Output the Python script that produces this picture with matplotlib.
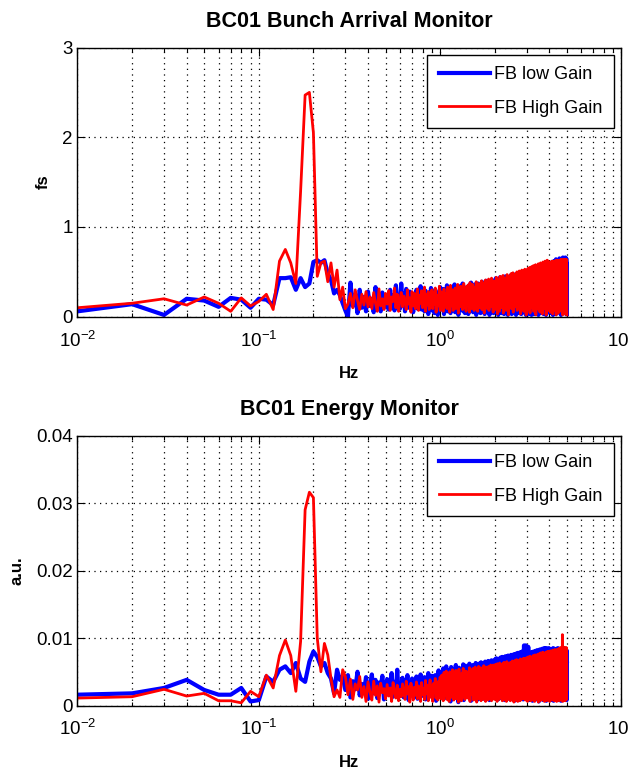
import numpy as np
import matplotlib.pyplot as plt

plt.rcParams['font.family'] = ['Liberation Sans', 'DejaVu Sans']
plt.rcParams['mathtext.default'] = 'regular'

# spectrum bins: 0.01 Hz ... 5.00 Hz
freq = np.arange(1, 501) / 100.0

# BC01 bunch arrival monitor (fs), one row = 0.1 Hz
arrival_low = [
    0.06, 0.14, 0.02, 0.20, 0.18, 0.11, 0.21, 0.19, 0.10, 0.20,
    0.19, 0.13, 0.43, 0.43, 0.44, 0.30, 0.43, 0.33, 0.37, 0.61,
    0.63, 0.60, 0.63, 0.48, 0.41, 0.26, 0.30, 0.24, 0.15, 0.07,
    0.00, 0.38, 0.12, 0.25, 0.04, 0.30, 0.10, 0.22, 0.06, 0.28,
    0.12, 0.20, 0.05, 0.33, 0.14, 0.18, 0.06, 0.27, 0.10, 0.22,
    0.15, 0.08, 0.30, 0.12, 0.24, 0.07, 0.35, 0.16, 0.20, 0.09,
    0.37, 0.14, 0.26, 0.06, 0.31, 0.18, 0.10, 0.28, 0.13, 0.22,
    0.05, 0.24, 0.15, 0.30, 0.09, 0.20, 0.12, 0.34, 0.08, 0.18,
    0.25, 0.06, 0.29, 0.14, 0.21, 0.03, 0.27, 0.11, 0.32, 0.07,
    0.19, 0.24, 0.04, 0.30, 0.13, 0.22, 0.02, 0.26, 0.15, 0.33,
    0.08, 0.24, 0.12, 0.31, 0.03, 0.20, 0.27, 0.10, 0.35, 0.06,
    0.22, 0.14, 0.29, 0.04, 0.33, 0.17, 0.09, 0.26, 0.12, 0.36,
    0.05, 0.21, 0.30, 0.11, 0.25, 0.02, 0.34, 0.15, 0.23, 0.08,
    0.28, 0.13, 0.37, 0.06, 0.22, 0.31, 0.04, 0.27, 0.18, 0.33,
    0.10, 0.25, 0.03, 0.35, 0.16, 0.29, 0.07, 0.38, 0.12, 0.24,
    0.30, 0.05, 0.27, 0.19, 0.36, 0.09, 0.23, 0.02, 0.32, 0.14,
    0.21, 0.37, 0.08, 0.28, 0.13, 0.34, 0.04, 0.26, 0.17, 0.39,
    0.06, 0.30, 0.22, 0.11, 0.36, 0.03, 0.29, 0.15, 0.40, 0.09,
    0.25, 0.33, 0.05, 0.38, 0.18, 0.27, 0.02, 0.35, 0.12, 0.31,
    0.20, 0.07, 0.41, 0.14, 0.29, 0.36, 0.04, 0.26, 0.39, 0.10,
    0.32, 0.16, 0.43, 0.05, 0.28, 0.37, 0.11, 0.24, 0.02, 0.40,
    0.19, 0.35, 0.08, 0.44, 0.13, 0.30, 0.22, 0.04, 0.38, 0.27,
    0.10, 0.42, 0.17, 0.33, 0.03, 0.39, 0.25, 0.14, 0.45, 0.06,
    0.29, 0.21, 0.40, 0.09, 0.36, 0.02, 0.31, 0.44, 0.15, 0.26,
    0.41, 0.07, 0.34, 0.23, 0.46, 0.12, 0.28, 0.03, 0.39, 0.18,
    0.08, 0.43, 0.24, 0.35, 0.05, 0.47, 0.16, 0.30, 0.11, 0.42,
    0.27, 0.02, 0.38, 0.20, 0.45, 0.13, 0.33, 0.06, 0.48, 0.22,
    0.36, 0.15, 0.42, 0.04, 0.29, 0.47, 0.10, 0.39, 0.25, 0.03,
    0.44, 0.18, 0.32, 0.49, 0.07, 0.37, 0.21, 0.46, 0.12, 0.34,
    0.05, 0.41, 0.27, 0.50, 0.14, 0.38, 0.02, 0.45, 0.23, 0.35,
    0.48, 0.11, 0.40, 0.26, 0.52, 0.06, 0.37, 0.19, 0.44, 0.03,
    0.33, 0.50, 0.15, 0.42, 0.08, 0.47, 0.28, 0.36, 0.02, 0.51,
    0.21, 0.39, 0.12, 0.53, 0.31, 0.05, 0.45, 0.24, 0.49, 0.16,
    0.41, 0.03, 0.36, 0.52, 0.18, 0.44, 0.09, 0.48, 0.29, 0.38,
    0.07, 0.54, 0.25, 0.43, 0.13, 0.50, 0.34, 0.02, 0.46, 0.20,
    0.52, 0.30, 0.11, 0.47, 0.39, 0.04, 0.55, 0.22, 0.42, 0.15,
    0.37, 0.49, 0.06, 0.53, 0.27, 0.44, 0.10, 0.56, 0.32, 0.19,
    0.45, 0.03, 0.51, 0.35, 0.14, 0.57, 0.24, 0.48, 0.08, 0.41,
    0.55, 0.28, 0.46, 0.02, 0.50, 0.38, 0.17, 0.58, 0.26, 0.43,
    0.12, 0.53, 0.33, 0.47, 0.05, 0.59, 0.40, 0.21, 0.54, 0.30,
    0.44, 0.09, 0.57, 0.36, 0.51, 0.14, 0.60, 0.27, 0.48, 0.04,
    0.39, 0.58, 0.22, 0.53, 0.11, 0.61, 0.34, 0.46, 0.02, 0.56,
    0.31, 0.49, 0.16, 0.62, 0.42, 0.07, 0.57, 0.25, 0.52, 0.38,
    0.13, 0.60, 0.45, 0.29, 0.64, 0.03, 0.50, 0.37, 0.58, 0.20,
    0.47, 0.62, 0.10, 0.55, 0.33, 0.48, 0.05, 0.63, 0.41, 0.24,
    0.59, 0.18, 0.52, 0.40, 0.65, 0.08, 0.56, 0.30, 0.61, 0.14,
    0.43, 0.57, 0.02, 0.62, 0.35, 0.50, 0.21, 0.64, 0.46, 0.09,
    0.60, 0.28, 0.54, 0.12, 0.66, 0.39, 0.58, 0.04, 0.51, 0.63,
    0.23, 0.56, 0.44, 0.65, 0.06, 0.61, 0.37, 0.53, 0.15, 0.66,
    0.49, 0.32, 0.62, 0.08, 0.57, 0.65, 0.19, 0.60, 0.42, 0.03,
]

arrival_high = [
    0.10, 0.15, 0.20, 0.13, 0.22, 0.15, 0.06, 0.21, 0.12, 0.17,
    0.25, 0.08, 0.62, 0.75, 0.60, 0.37, 1.40, 2.47, 2.50, 2.05,
    0.45, 0.60, 0.62, 0.39, 0.60, 0.33, 0.52, 0.19, 0.33, 0.09,
    0.14, 0.26, 0.10, 0.30, 0.18, 0.08, 0.25, 0.13, 0.28, 0.11,
    0.22, 0.09, 0.27, 0.15, 0.06, 0.31, 0.12, 0.20, 0.08, 0.26,
    0.14, 0.29, 0.07, 0.22, 0.17, 0.32, 0.10, 0.25, 0.06, 0.19,
    0.27, 0.11, 0.23, 0.16, 0.08, 0.30, 0.14, 0.21, 0.05, 0.28,
    0.12, 0.26, 0.09, 0.20, 0.31, 0.07, 0.24, 0.15, 0.29, 0.10,
    0.18, 0.33, 0.06, 0.25, 0.13, 0.28, 0.08, 0.22, 0.16, 0.30,
    0.09, 0.27, 0.14, 0.32, 0.05, 0.24, 0.19, 0.12, 0.34, 0.07,
    0.28, 0.15, 0.23, 0.06, 0.31, 0.11, 0.26, 0.18, 0.09, 0.33,
    0.16, 0.29, 0.05, 0.35, 0.20, 0.12, 0.30, 0.07, 0.25, 0.14,
    0.32, 0.09, 0.27, 0.18, 0.36, 0.04, 0.28, 0.21, 0.11, 0.34,
    0.13, 0.30, 0.08, 0.25, 0.37, 0.10, 0.33, 0.16, 0.06, 0.29,
    0.22, 0.35, 0.12, 0.27, 0.05, 0.38, 0.19, 0.31, 0.09, 0.26,
    0.36, 0.14, 0.30, 0.07, 0.33, 0.23, 0.11, 0.39, 0.17, 0.28,
    0.06, 0.32, 0.24, 0.37, 0.10, 0.29, 0.35, 0.13, 0.40, 0.08,
    0.27, 0.15, 0.38, 0.21, 0.04, 0.34, 0.26, 0.41, 0.12, 0.30,
    0.36, 0.09, 0.28, 0.17, 0.42, 0.07, 0.33, 0.24, 0.39, 0.14,
    0.31, 0.43, 0.11, 0.35, 0.22, 0.05, 0.40, 0.19, 0.29, 0.37,
    0.08, 0.34, 0.25, 0.44, 0.13, 0.38, 0.03, 0.32, 0.41, 0.17,
    0.39, 0.06, 0.30, 0.45, 0.21, 0.36, 0.10, 0.42, 0.27, 0.15,
    0.33, 0.46, 0.04, 0.37, 0.24, 0.40, 0.12, 0.35, 0.19, 0.43,
    0.07, 0.39, 0.29, 0.47, 0.16, 0.34, 0.44, 0.02, 0.38, 0.26,
    0.45, 0.13, 0.41, 0.22, 0.36, 0.48, 0.09, 0.31, 0.43, 0.18,
    0.35, 0.49, 0.05, 0.42, 0.28, 0.46, 0.14, 0.39, 0.23, 0.47,
    0.11, 0.37, 0.44, 0.20, 0.50, 0.07, 0.41, 0.32, 0.48, 0.16,
    0.43, 0.26, 0.51, 0.09, 0.38, 0.45, 0.03, 0.49, 0.30, 0.40,
    0.17, 0.52, 0.34, 0.46, 0.12, 0.44, 0.27, 0.50, 0.06, 0.42,
    0.48, 0.21, 0.53, 0.36, 0.10, 0.47, 0.39, 0.02, 0.51, 0.33,
    0.44, 0.15, 0.50, 0.28, 0.54, 0.08, 0.45, 0.37, 0.52, 0.19,
    0.41, 0.55, 0.04, 0.48, 0.31, 0.53, 0.13, 0.46, 0.25, 0.56,
    0.10, 0.50, 0.38, 0.54, 0.20, 0.47, 0.57, 0.06, 0.43, 0.35,
    0.52, 0.16, 0.55, 0.29, 0.49, 0.58, 0.02, 0.44, 0.36, 0.53,
    0.22, 0.57, 0.40, 0.51, 0.11, 0.56, 0.33, 0.59, 0.08, 0.48,
    0.54, 0.27, 0.58, 0.42, 0.05, 0.55, 0.46, 0.60, 0.18, 0.50,
    0.39, 0.59, 0.13, 0.56, 0.47, 0.03, 0.57, 0.32, 0.61, 0.24,
    0.53, 0.44, 0.60, 0.09, 0.55, 0.37, 0.58, 0.15, 0.62, 0.41,
    0.28, 0.57, 0.50, 0.02, 0.61, 0.45, 0.56, 0.20, 0.63, 0.35,
    0.59, 0.12, 0.54, 0.62, 0.30, 0.58, 0.07, 0.60, 0.48, 0.55,
    0.16, 0.61, 0.43, 0.57, 0.05, 0.52, 0.60, 0.34, 0.58, 0.21,
    0.55, 0.38, 0.62, 0.10, 0.57, 0.49, 0.03, 0.61, 0.44, 0.59,
    0.26, 0.58, 0.51, 0.62, 0.14, 0.56, 0.40, 0.60, 0.07, 0.54,
    0.61, 0.31, 0.57, 0.47, 0.63, 0.02, 0.59, 0.36, 0.62, 0.19,
    0.50, 0.60, 0.11, 0.56, 0.63, 0.42, 0.58, 0.04, 0.61, 0.33,
    0.57, 0.48, 0.62, 0.17, 0.59, 0.53, 0.06, 0.63, 0.39, 0.60,
    0.24, 0.61, 0.55, 0.64, 0.09, 0.58, 0.45, 0.62, 0.13, 0.57,
    0.63, 0.35, 0.60, 0.02, 0.62, 0.51, 0.64, 0.20, 0.59, 0.46,
    0.61, 0.08, 0.63, 0.54, 0.28, 0.62, 0.57, 0.03, 0.64, 0.41,
    0.58, 0.63, 0.15, 0.61, 0.49, 0.64, 0.06, 0.60, 0.52, 0.02,
]

# BC01 energy monitor, in units of 1e-3 a.u.
energy_low = [
    1.6, 1.8, 2.6, 3.8, 2.3, 1.6, 1.6, 2.6, 0.6, 0.8,
    4.3, 3.5, 5.3, 5.8, 4.8, 6.3, 4.0, 3.5, 6.5, 8.0,
    7.2, 5.8, 6.3, 4.8, 4.0, 1.8, 5.3, 3.8, 4.3, 2.3,
    4.5, 1.2, 3.6, 2.4, 5.0, 1.5, 3.2, 2.0, 4.2, 1.0,
    3.0, 4.6, 1.8, 3.8, 1.1, 3.4, 2.6, 4.4, 0.9, 2.8,
    3.9, 1.6, 3.1, 4.8, 1.3, 3.5, 2.2, 5.3, 1.7, 3.3,
    2.0, 4.1, 1.2, 3.6, 2.7, 4.5, 0.8, 3.0, 2.3, 4.0,
    1.5, 3.4, 2.5, 4.3, 1.0, 3.7, 2.1, 4.6, 1.4, 3.1,
    2.8, 4.2, 0.9, 3.5, 2.4, 4.8, 1.6, 3.2, 2.0, 4.4,
    1.2, 3.8, 2.6, 4.5, 0.7, 3.6, 2.9, 5.2, 1.5, 3.4,
    4.9, 1.8, 3.9, 5.5, 1.0, 4.3, 2.7, 5.8, 1.4, 3.6,
    5.2, 2.2, 4.6, 0.6, 5.7, 3.1, 4.0, 1.6, 5.4, 2.9,
    4.4, 6.0, 1.2, 5.0, 3.5, 0.5, 5.6, 2.4, 4.8, 3.8,
    1.9, 5.3, 4.1, 6.1, 0.8, 4.7, 3.0, 5.9, 2.0, 4.5,
    5.6, 1.3, 4.9, 3.6, 6.2, 2.5, 5.1, 0.7, 4.3, 5.8,
    2.8, 6.0, 3.9, 1.1, 5.4, 4.6, 6.3, 1.7, 5.0, 3.3,
    5.9, 0.9, 4.8, 6.2, 2.6, 5.5, 3.7, 6.4, 1.4, 4.9,
    3.1, 6.3, 5.2, 1.0, 5.8, 4.0, 6.5, 2.2, 5.6, 4.4,
    6.1, 1.8, 5.0, 6.6, 3.4, 5.7, 0.8, 6.2, 4.7, 2.5,
    5.4, 6.7, 2.0, 5.9, 4.2, 6.4, 1.3, 5.8, 3.6, 6.8,
    2.9, 6.5, 5.1, 7.0, 1.6, 6.0, 4.3, 6.8, 0.9, 5.5,
    6.9, 3.7, 6.2, 1.2, 7.1, 5.3, 2.4, 6.6, 4.8, 7.2,
    1.0, 6.4, 5.6, 7.0, 3.0, 6.8, 0.8, 5.9, 7.3, 4.1,
    6.6, 2.2, 7.1, 5.0, 6.3, 1.5, 7.4, 4.6, 6.0, 3.2,
    7.2, 5.7, 0.9, 6.8, 4.4, 7.5, 2.7, 6.1, 5.3, 7.0,
    1.8, 7.3, 6.0, 3.5, 7.6, 5.1, 0.7, 6.9, 4.8, 7.4,
    6.3, 2.9, 7.7, 5.5, 1.2, 7.2, 6.6, 4.0, 7.8, 2.1,
    7.0, 5.8, 0.8, 7.5, 6.2, 3.3, 7.9, 5.0, 1.6, 7.3,
    6.7, 4.2, 8.0, 2.4, 7.1, 6.0, 0.9, 7.6, 5.4, 8.9,
    3.0, 7.4, 6.4, 1.4, 7.8, 5.7, 8.9, 2.6, 7.2, 6.1,
    7.6, 1.1, 7.0, 6.2, 3.8, 8.7, 5.2, 7.3, 0.8, 6.6,
    5.9, 7.8, 2.5, 7.0, 5.5, 7.5, 1.5, 7.2, 6.4, 4.1,
    7.9, 5.6, 0.7, 7.4, 6.7, 3.3, 8.0, 5.1, 7.1, 1.9,
    6.8, 7.7, 4.3, 7.2, 0.9, 8.1, 6.0, 6.9, 2.8, 7.5,
    5.4, 7.0, 8.2, 1.3, 7.4, 6.3, 3.7, 7.8, 6.6, 0.6,
    8.0, 4.8, 7.3, 8.3, 2.2, 7.0, 5.7, 7.9, 4.2, 7.2,
    1.0, 8.1, 6.8, 5.2, 8.4, 3.0, 7.5, 6.2, 8.2, 0.8,
    7.1, 7.8, 4.0, 8.5, 6.5, 1.7, 8.0, 7.0, 4.9, 8.3,
    2.6, 7.7, 7.1, 8.5, 0.7, 8.1, 5.9, 7.4, 3.4, 8.4,
    6.7, 4.5, 8.2, 1.5, 7.9, 7.3, 5.5, 8.5, 0.9, 7.6,
    6.1, 8.3, 2.9, 7.8, 7.0, 0.8, 8.2, 5.3, 7.6, 6.8,
    2.0, 8.0, 6.4, 8.4, 4.1, 7.5, 1.2, 8.1, 6.9, 5.1,
    8.5, 0.7, 7.7, 5.8, 8.2, 3.6, 7.3, 7.9, 1.6, 7.6,
    4.7, 8.3, 7.0, 2.5, 8.0, 6.2, 0.9, 8.4, 6.7, 3.9,
    8.1, 7.4, 1.4, 7.8, 5.5, 8.5, 3.1, 7.2, 8.0, 0.8,
    6.6, 8.2, 4.6, 7.7, 2.3, 8.4, 6.0, 7.5, 1.1, 7.9,
    5.2, 7.6, 7.1, 0.7, 8.3, 3.4, 7.8, 6.5, 8.1, 2.0,
    7.7, 4.2, 8.4, 6.8, 1.3, 8.0, 5.4, 8.2, 0.8, 7.3,
    7.9, 6.3, 2.6, 8.5, 7.1, 0.9, 7.8, 3.8, 8.3, 5.7,
    1.6, 8.1, 7.4, 3.2, 7.6, 6.5, 8.2, 0.8, 7.0, 6.6,
]

energy_high = [
    1.1, 1.3, 2.4, 1.4, 1.8, 0.7, 0.7, 0.4, 2.1, 1.3,
    4.5, 2.6, 7.4, 9.7, 7.4, 2.1, 9.5, 29.0, 31.6, 30.8,
    10.0, 5.0, 9.2, 7.5, 4.0, 1.3, 2.3, 1.2, 5.3, 4.3,
    1.6, 3.9, 0.9, 3.2, 2.3, 4.3, 1.2, 2.8, 0.6, 3.5,
    2.0, 0.8, 3.6, 1.5, 2.9, 0.5, 3.3, 1.9, 2.5, 1.0,
    3.1, 1.4, 2.6, 0.6, 3.4, 2.1, 1.1, 3.0, 0.7, 2.4,
    1.3, 3.2, 2.0, 0.9, 3.6, 1.7, 2.8, 0.5, 3.3, 2.2,
    0.8, 2.7, 1.5, 3.5, 1.0, 2.9, 2.2, 0.6, 3.4, 1.6,
    2.5, 0.9, 3.7, 1.8, 3.0, 0.7, 2.6, 3.8, 1.2, 2.9,
    0.6, 3.3, 1.9, 4.0, 1.1, 3.1, 0.8, 3.6, 2.3, 4.2,
    1.0, 4.5, 2.6, 0.7, 4.9, 3.0, 1.5, 5.1, 0.9, 4.2,
    3.4, 0.6, 5.0, 2.1, 4.4, 1.2, 5.3, 2.8, 0.8, 4.7,
    2.3, 5.2, 1.0, 4.0, 3.1, 0.5, 5.4, 1.8, 4.6, 2.9,
    0.7, 4.8, 3.6, 5.5, 1.4, 4.2, 0.9, 5.1, 2.5, 4.4,
    5.0, 1.1, 4.3, 2.7, 5.6, 0.6, 4.9, 3.3, 1.6, 5.3,
    2.0, 5.5, 0.8, 4.6, 3.8, 5.7, 1.3, 4.1, 0.5, 5.2,
    4.7, 2.4, 5.8, 1.0, 4.4, 3.0, 5.6, 0.7, 4.9, 2.2,
    5.4, 0.9, 4.2, 5.9, 1.8, 5.0, 3.5, 0.6, 5.7, 3.9,
    1.5, 5.3, 4.6, 0.8, 5.8, 2.6, 5.1, 4.0, 1.1, 6.0,
    3.7, 0.7, 5.5, 4.3, 1.9, 6.0, 2.9, 5.2, 0.9, 5.6,
    4.1, 6.1, 1.4, 5.4, 3.2, 0.6, 6.2, 4.5, 2.1, 5.8,
    0.9, 5.0, 6.3, 2.7, 5.6, 1.2, 4.8, 6.0, 3.5, 0.7,
    6.2, 4.0, 1.8, 5.9, 6.4, 0.8, 5.3, 3.0, 6.1, 2.3,
    5.1, 0.6, 6.5, 4.4, 1.5, 6.0, 3.8, 5.6, 0.9, 6.3,
    2.6, 5.8, 4.7, 0.7, 6.4, 3.3, 6.1, 1.9, 5.4, 6.6,
    1.1, 4.9, 6.2, 3.6, 0.5, 6.5, 5.0, 2.4, 6.7, 4.2,
    6.0, 0.8, 5.5, 6.8, 2.0, 5.9, 4.5, 0.6, 6.6, 3.4,
    5.2, 6.7, 1.3, 6.1, 4.8, 0.7, 6.9, 3.1, 5.7, 6.4,
    0.9, 5.4, 6.8, 2.7, 6.3, 5.0, 1.0, 7.0, 4.3, 6.0,
    6.6, 1.6, 5.8, 7.0, 0.8, 6.2, 4.6, 6.9, 2.2, 5.5,
    7.1, 3.9, 0.6, 6.7, 5.9, 7.2, 1.8, 6.4, 4.9, 0.9,
    6.9, 5.3, 7.3, 2.5, 6.1, 0.7, 7.0, 4.4, 6.6, 1.4,
    5.7, 7.2, 3.0, 6.8, 0.8, 7.4, 5.1, 6.3, 2.0, 7.1,
    4.2, 0.6, 6.9, 7.5, 3.6, 6.5, 1.2, 7.3, 5.5, 6.0,
    0.9, 7.4, 4.8, 6.7, 7.6, 1.7, 6.2, 0.5, 7.5, 5.0,
    6.8, 2.8, 7.7, 5.6, 0.7, 7.2, 6.4, 3.9, 7.8, 1.3,
    6.0, 7.6, 4.5, 0.8, 7.3, 6.9, 2.4, 7.9, 5.2, 6.6,
    1.0, 7.8, 6.2, 7.4, 3.3, 0.6, 7.7, 5.8, 7.0, 2.1,
    7.5, 4.6, 7.9, 1.5, 6.8, 7.6, 0.7, 7.2, 6.1, 8.0,
    3.0, 7.3, 5.4, 7.8, 0.9, 6.6, 8.0, 2.6, 7.4, 4.7,
    7.9, 0.6, 7.1, 6.3, 8.1, 3.7, 7.5, 1.2, 7.8, 5.9,
    2.3, 8.0, 6.7, 0.8, 7.6, 4.9, 8.2, 6.0, 1.5, 7.3,
    7.7, 5.5, 8.1, 2.9, 7.0, 0.7, 7.9, 6.5, 8.3, 3.4,
    0.9, 7.4, 8.0, 5.1, 1.6, 7.8, 6.8, 8.2, 0.6, 7.2,
    6.1, 8.3, 2.7, 7.6, 7.9, 0.8, 8.1, 4.4, 7.3, 8.4,
    1.4, 7.0, 8.2, 5.8, 0.7, 7.7, 8.5, 3.2, 7.9, 6.4,
    8.3, 0.9, 7.5, 8.6, 4.1, 7.2, 8.0, 1.1, 8.4, 6.9,
    2.5, 10.5, 7.8, 0.6, 8.2, 6.6, 8.7, 3.8, 7.4, 8.5,
    0.8, 8.1, 7.0, 8.6, 2.0, 7.7, 8.3, 5.3, 0.7, 8.0,
    7.6, 8.4, 1.3, 7.9, 6.2, 8.6, 0.9, 8.2, 5.0, 2.4,
]

titles = ['BC01 Bunch Arrival Monitor', 'BC01 Energy Monitor']
ylabels = ['fs', 'a.u.']
legend_labels = ['FB low Gain', 'FB High Gain']


def style_axes(ax, title, ylabel):
    ax.set_xscale('log')
    ax.set_xlim(1e-2, 1e1)
    ax.set_title(title, fontsize=15.5, fontweight='bold', pad=15)
    ax.set_xlabel('Hz', fontsize=12, fontweight='bold', labelpad=11)
    ax.set_ylabel(ylabel, fontsize=12, fontweight='bold', labelpad=8)
    ax.tick_params(which='both', direction='in', top=True, right=True,
                   labelsize=13.5, width=0.8)
    ax.tick_params(which='major', length=6)
    ax.tick_params(which='minor', length=3)
    ax.tick_params(axis='x', pad=10)
    ax.grid(True, which='both', axis='x', color='k', linestyle=(0, (1, 3.5)), linewidth=0.9)
    ax.grid(True, which='major', axis='y', color='k', linestyle=(0, (1, 3.5)), linewidth=0.9)
    for s in ax.spines.values():
        s.set_linewidth(1.0)
    leg = ax.legend(loc='upper right', fontsize=13, fancybox=False, framealpha=1,
                    edgecolor='k', handlelength=2.8, handletextpad=0.25,
                    labelspacing=0.9, borderaxespad=0.4, borderpad=0.65)
    leg.get_frame().set_linewidth(1.0)


fig = plt.figure(figsize=(6.3, 7.74), dpi=100)
ax1 = fig.add_axes([0.123, 0.5908, 0.8635, 0.3478])
ax2 = fig.add_axes([0.123, 0.0885, 0.8635, 0.3488])

ax1.plot(freq, arrival_low, color='b', linewidth=3.0, label=legend_labels[0])
ax1.plot(freq, arrival_high, color='r', linewidth=2.0, label=legend_labels[1])
ax1.set_ylim(0, 3)
ax1.set_yticks([0, 1, 2, 3])
style_axes(ax1, titles[0], ylabels[0])

ax2.plot(freq, np.array(energy_low) * 1e-3, color='b', linewidth=3.0, label=legend_labels[0])
ax2.plot(freq, np.array(energy_high) * 1e-3, color='r', linewidth=2.0, label=legend_labels[1])
ax2.set_ylim(0, 0.04)
ax2.set_yticks([0, 0.01, 0.02, 0.03, 0.04])
ax2.set_yticklabels(['0', '0.01', '0.02', '0.03', '0.04'])
style_axes(ax2, titles[1], ylabels[1])

fig.savefig('out.png', dpi=100)
